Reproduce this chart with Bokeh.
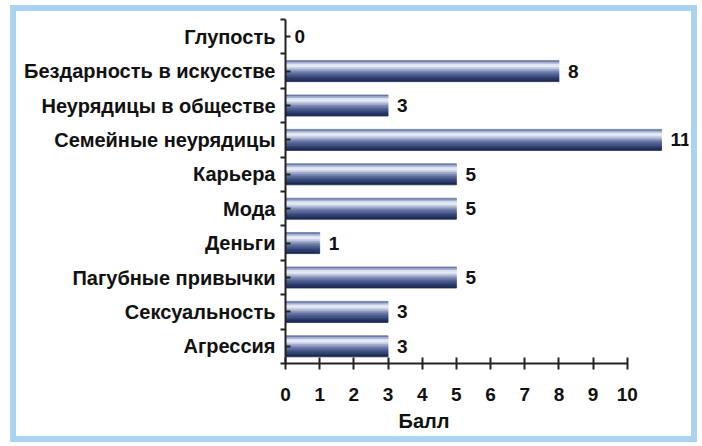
from bokeh.plotting import figure
from bokeh.models import Range1d, FixedTicker, Title
from bokeh.core.properties import value
from bokeh.embed import file_html
from bokeh.resources import INLINE

categories = ["Глупость", "Бездарность в искусстве", "Неурядицы в обществе",
              "Семейные неурядицы", "Карьера", "Мода", "Деньги",
              "Пагубные привычки", "Сексуальность", "Агрессия"]
scores = [0, 8, 3, 11, 5, 5, 1, 5, 3, 3]
x_ticks = [0, 1, 2, 3, 4, 5, 6, 7, 8, 9, 10]
x_title = "Балл"

n = len(categories)
pos = [n - 0.5 - i for i in range(n)]

FONT = "Liberation Sans"
TXT = "#111111"

p = figure(width=687, height=437, output_backend="svg", toolbar_location=None,
           x_range=Range1d(0, 11.79), y_range=Range1d(0, n),
           min_border_left=269, min_border_right=15,
           min_border_top=8, min_border_bottom=85,
           margin=(5, 5, 4, 10),
           styles={"border": "6px solid #a9d3f1"})
p.outline_line_color = None
p.grid.visible = False
p.background_fill_color = "white"
p.border_fill_color = "white"

# cylinder-like gradient, top to bottom
grad = ["#6b7aa6", "#a7b2d2", "#dfe5f2", "#e6ebf5", "#c4cce2", "#9da9ca",
        "#7a88b3", "#5e6e9e", "#4a5a8b", "#394a7a", "#2b3b69", "#1d2b55"]
bar_h = 0.61
K = len(grad)
for k, col in enumerate(grad):
    ys = [c + bar_h / 2 - (k + 0.5) * bar_h / K for c in pos]
    p.hbar(y=ys, left=0, right=scores, height=bar_h / K,
           fill_color=col, line_color=col, line_width=0.8)

p.text(x=scores, y=pos, text=[str(v) for v in scores], x_offset=9,
       text_baseline="middle", text_align="left",
       text_font=value(FONT), text_font_style="bold",
       text_font_size="19px", text_color=TXT)

# x axis
xa = p.xaxis[0]
xa.ticker = FixedTicker(ticks=x_ticks)
xa.bounds = (0, 10)
xa.major_tick_in = 6
xa.major_tick_out = 6
xa.minor_tick_in = 0
xa.minor_tick_out = 0
xa.major_label_standoff = 18
xa.major_label_text_font_size = "19px"

p.add_layout(Title(text=x_title, align="left", offset=113,
                   text_font=FONT, text_font_style="bold",
                   text_font_size="20px", text_color=TXT,
                   standoff=9), "below")

# y axis
ya = p.yaxis[0]
ya.ticker = FixedTicker(ticks=pos, minor_ticks=[float(i) for i in range(n + 1)])
ya.major_label_overrides = {c: name for c, name in zip(pos, categories)}
ya.major_tick_in = 5
ya.major_tick_out = 0
ya.minor_tick_in = 0
ya.minor_tick_out = 5
ya.major_label_standoff = 5
ya.major_label_text_font_size = "20px"

for ax in (xa, ya):
    ax.axis_line_width = 2
    ax.axis_line_color = "#222222"
    ax.major_tick_line_width = 2
    ax.major_tick_line_color = "#222222"
    ax.minor_tick_line_width = 2
    ax.minor_tick_line_color = "#222222"
    ax.major_label_text_font = FONT
    ax.major_label_text_font_style = "bold"
    ax.major_label_text_color = TXT

open("out.html", "w").write(file_html(p, INLINE))
